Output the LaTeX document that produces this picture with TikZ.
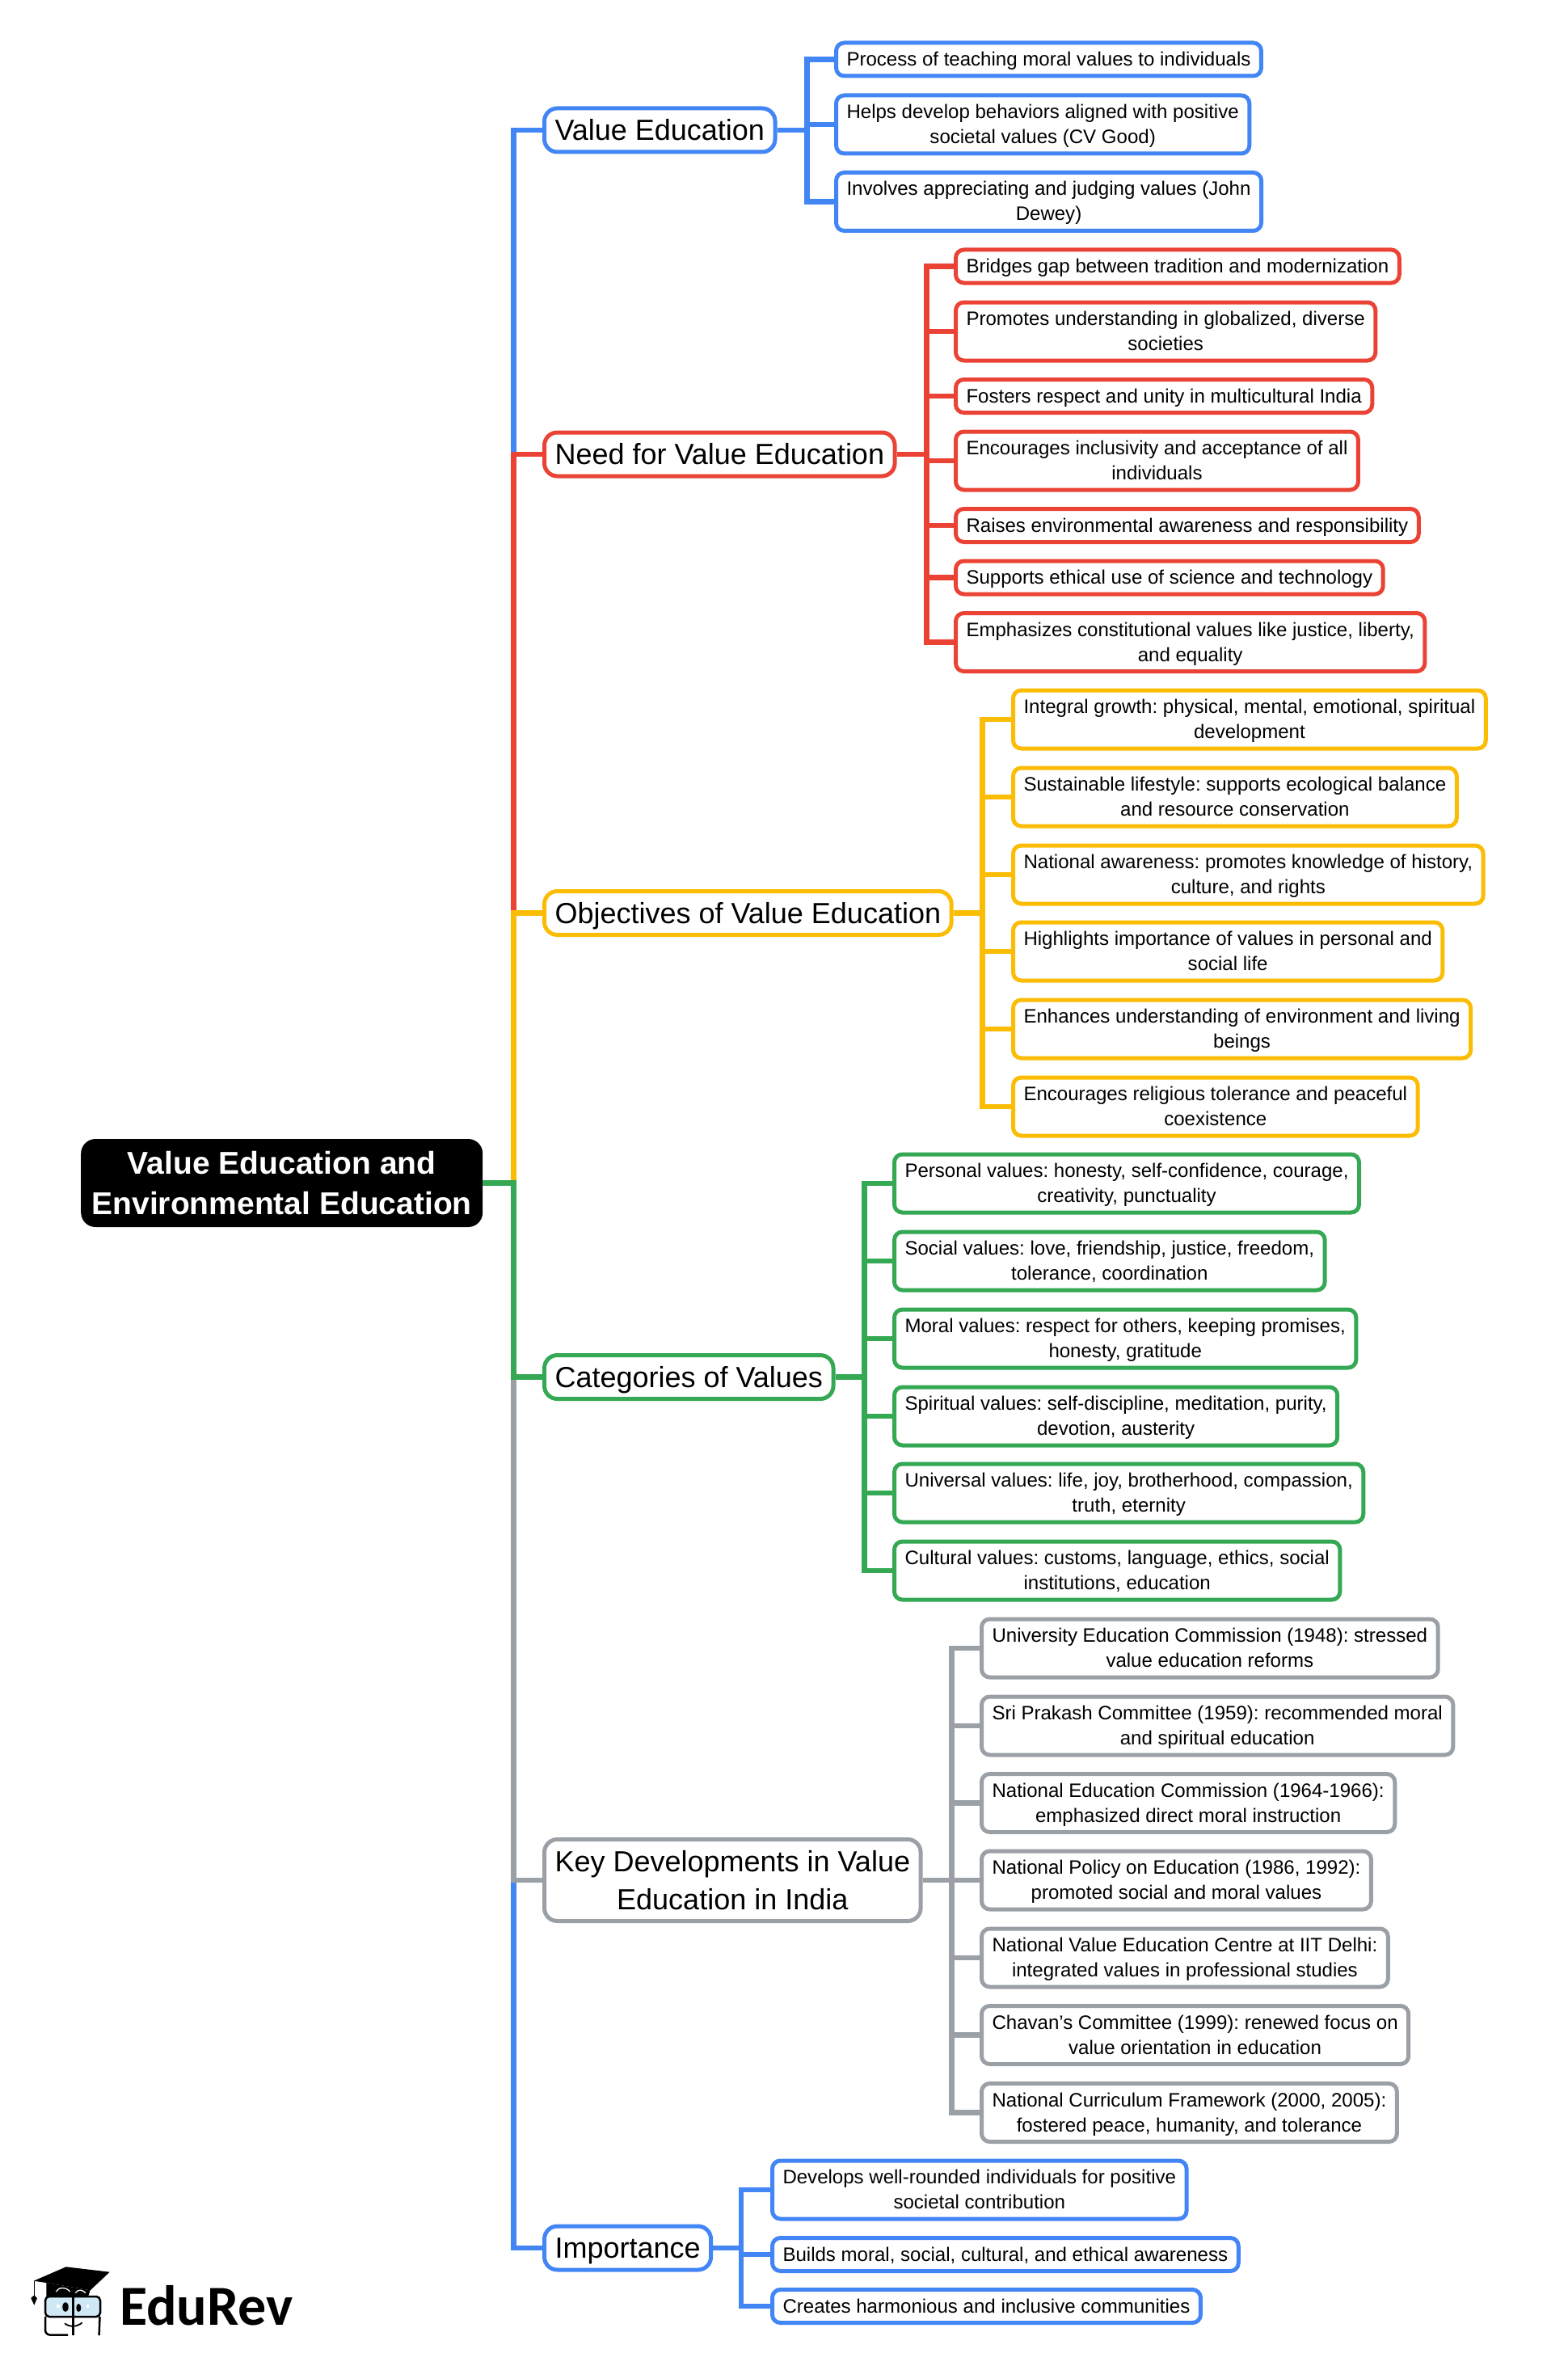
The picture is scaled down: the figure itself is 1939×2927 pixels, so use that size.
\documentclass[tikz,border=0pt]{standalone}
\usepackage{fontspec}
\setmainfont{Liberation Sans}
\newfontfamily\brandfont{Carlito}
\usetikzlibrary{positioning}
\definecolor{MyBlue}{HTML}{4285F4}
\definecolor{MyRed}{HTML}{EA4335}
\definecolor{MyYellow}{HTML}{FBBC04}
\definecolor{MyGreen}{HTML}{34A853}
\definecolor{MyGray}{HTML}{9AA0A6}
\definecolor{MyGlass}{HTML}{CFE8F6}
\tikzset{
    leaf/.style={draw=#1, fill=white, line width=5pt, rounded corners=10pt, anchor=west, align=center,
        inner xsep=13pt, inner ysep=0pt, minimum height=41pt, text height=19pt, text depth=3pt,
        font=\frenchspacing\fontsize{24.05}{31}\selectfont},
    tall/.style={minimum height=72pt, text height=50pt},
    topic/.style={draw=#1, fill=white, line width=5pt, rounded corners=16pt, anchor=west, align=center,
        inner xsep=13pt, inner ysep=0pt, minimum height=54pt, text height=27pt, text depth=1.6pt,
        font=\frenchspacing\fontsize{36}{47}\selectfont},
    link/.style={draw=#1, line width=6.5pt},
}
\begin{document}
\begin{tikzpicture}[x=1pt,y=-1pt]
    \useasboundingbox (0,0) rectangle (1939,2927);

%   root
    \node[fill=black, text=white, rounded corners=18pt, align=center, anchor=west, inner sep=0pt,
        minimum width=497pt, minimum height=109pt, font=\fontsize{39}{50.5}\selectfont\bfseries]
        (root) at (100,1463.5) {Value Education and\\Environmental Education};

%   topics
    \node[topic=MyBlue] (val) at (671,161) {Value Education};
    \node[topic=MyRed] (need) at (671,562) {Need for Value Education};
    \node[topic=MyYellow] (obj) at (671,1129.5) {Objectives of Value Education};
    \node[topic=MyGreen] (cat) at (671,1703.5) {Categories of Values};
    \node[topic=MyGray, minimum height=101pt, text height=74pt, text depth=1pt] (key) at (671,2326) {Key Developments in Value\\Education in India};
    \node[topic=MyBlue] (imp) at (671,2781) {Importance};

%   value education
    \node[leaf=MyBlue] (v1) at (1032,73.5) {Process of teaching moral values to individuals};
    \node[leaf=MyBlue, tall] (v2) at (1032,154) {Helps develop behaviors aligned with positive\\societal values (CV Good)};
    \node[leaf=MyBlue, tall] (v3) at (1032,249.5) {Involves appreciating and judging values (John\\Dewey)};

%   need
    \node[leaf=MyRed] (n1) at (1180,329.5) {Bridges gap between tradition and modernization};
    \node[leaf=MyRed, tall] (n2) at (1180,410) {Promotes understanding in globalized, diverse\\societies};
    \node[leaf=MyRed] (n3) at (1180,490) {Fosters respect and unity in multicultural India};
    \node[leaf=MyRed, tall] (n4) at (1180,570) {Encourages inclusivity and acceptance of all\\individuals};
    \node[leaf=MyRed] (n5) at (1180,650) {Raises environmental awareness and responsibility};
    \node[leaf=MyRed] (n6) at (1180,714.5) {Supports ethical use of science and technology};
    \node[leaf=MyRed, tall] (n7) at (1180,794.5) {Emphasizes constitutional values like justice, liberty,\\and equality};

%   objectives
    \node[leaf=MyYellow, tall] (o1) at (1251,890) {Integral growth: physical, mental, emotional, spiritual\\development};
    \node[leaf=MyYellow, tall] (o2) at (1251,986) {Sustainable lifestyle: supports ecological balance\\and resource conservation};
    \node[leaf=MyYellow, tall] (o3) at (1251,1082) {National awareness: promotes knowledge of history,\\culture, and rights};
    \node[leaf=MyYellow, tall] (o4) at (1251,1177) {Highlights importance of values in personal and\\social life};
    \node[leaf=MyYellow, tall] (o5) at (1251,1273) {Enhances understanding of environment and living\\beings};
    \node[leaf=MyYellow, tall] (o6) at (1251,1369) {Encourages religious tolerance and peaceful\\coexistence};

%   categories
    \node[leaf=MyGreen, tall] (c1) at (1104,1464) {Personal values: honesty, self-confidence, courage,\\creativity, punctuality};
    \node[leaf=MyGreen, tall] (c2) at (1104,1560) {Social values: love, friendship, justice, freedom,\\tolerance, coordination};
    \node[leaf=MyGreen, tall] (c3) at (1104,1656) {Moral values: respect for others, keeping promises,\\honesty, gratitude};
    \node[leaf=MyGreen, tall] (c4) at (1104,1752) {Spiritual values: self-discipline, meditation, purity,\\devotion, austerity};
    \node[leaf=MyGreen, tall] (c5) at (1104,1847) {Universal values: life, joy, brotherhood, compassion,\\truth, eternity};
    \node[leaf=MyGreen, tall] (c6) at (1104,1943) {Cultural values: customs, language, ethics, social\\institutions, education};

%   key developments
    \node[leaf=MyGray, tall] (k1) at (1212,2039) {University Education Commission (1948): stressed\\value education reforms};
    \node[leaf=MyGray, tall] (k2) at (1212,2135) {Sri Prakash Committee (1959): recommended moral\\and spiritual education};
    \node[leaf=MyGray, tall] (k3) at (1212,2230.5) {National Education Commission (1964-1966):\\emphasized direct moral instruction};
    \node[leaf=MyGray, tall] (k4) at (1212,2326) {National Policy on Education (1986, 1992):\\promoted social and moral values};
    \node[leaf=MyGray, tall] (k5) at (1212,2422) {National Value Education Centre at IIT Delhi:\\integrated values in professional studies};
    \node[leaf=MyGray, tall] (k6) at (1212,2517.5) {Chavan's Committee (1999): renewed focus on\\value orientation in education};
    \node[leaf=MyGray, tall] (k7) at (1212,2613.5) {National Curriculum Framework (2000, 2005):\\fostered peace, humanity, and tolerance};

%   importance
    \node[leaf=MyBlue, tall] (i1) at (953,2709) {Develops well-rounded individuals for positive\\societal contribution};
    \node[leaf=MyBlue] (i2) at (953,2789) {Builds moral, social, cultural, and ethical awareness};
    \node[leaf=MyBlue] (i3) at (953,2853) {Creates harmonious and inclusive communities};

%   links from the root, the last one stays on top
    \draw[link=MyBlue] (root.east) -- ++(38,0) |- (val.west);
    \draw[link=MyBlue] (root.east) -- ++(38,0) |- (imp.west);
    \draw[link=MyGray] (root.east) -- ++(38,0) |- (key.west);
    \draw[link=MyRed] (root.east) -- ++(38,0) |- (need.west);
    \draw[link=MyYellow] (root.east) -- ++(38,0) |- (obj.west);
    \draw[link=MyGreen] (root.east) -- ++(38,0) |- (cat.west);

    \foreach \n in {v1,v2,v3} {
        \draw[link=MyBlue] (val.east) -- ++(37,0) |- (\n.west);
    }
    \foreach \n in {n1,n2,n3,n4,n5,n6,n7} {
        \draw[link=MyRed] (need.east) -- ++(37,0) |- (\n.west);
    }
    \foreach \n in {o1,o2,o3,o4,o5,o6} {
        \draw[link=MyYellow] (obj.east) -- ++(36,0) |- (\n.west);
    }
    \foreach \n in {c1,c2,c3,c4,c5,c6} {
        \draw[link=MyGreen] (cat.east) -- ++(36,0) |- (\n.west);
    }
    \foreach \n in {k1,k2,k3,k4,k5,k6,k7} {
        \draw[link=MyGray] (key.east) -- ++(36,0) |- (\n.west);
    }
    \foreach \n in {i1,i2,i3} {
        \draw[link=MyBlue] (imp.east) -- ++(35,0) |- (\n.west);
    }

%   logo
    \fill (41.7,2821.7) -- (81.7,2804.3) -- (135.7,2810.7) -- (111.7,2833.3) -- (57.3,2824) -- cycle;
    \fill (57.3,2824) -- (111.7,2833.3) -- (109,2841) -- (57.3,2841) -- cycle;
    \draw[white, line width=1.3pt] (69.3,2835) .. controls (72,2829) and (82,2829) .. (86.7,2835);
    \draw[white, line width=1.3pt] (93.3,2836.7) .. controls (96,2832) and (102,2832) .. (106,2836.7);
    \draw[line width=1.5pt] (42.3,2821.7) -- (42.3,2840);
    \fill (38.3,2843) -- (42.3,2839.3) -- (46,2843) -- (42.3,2851.7) -- cycle;
    \draw[line width=2.5pt, fill=MyGlass, rounded corners=5pt] (56,2841) rectangle (124,2866);
    \fill[white] (70,2851) rectangle (73.5,2854.5);
    \fill[white] (106.5,2851) rectangle (110,2854.5);
    \draw[line width=2.5pt, rounded corners=6pt] (56,2866) -- (56,2888.5) -- (84,2888.5);
    \draw[line width=2.5pt] (123.5,2866) -- (122.6,2889);
    \draw[line width=2.7pt] (90.7,2837) -- (90.7,2889.3);
    \fill (81,2854) ellipse (3.7 and 6);
    \fill (97.3,2855) ellipse (3 and 5);
    \draw[line width=1.8pt] (80,2874.3) .. controls (86,2879) and (95,2879) .. (101.7,2873.3);
    \node[anchor=base west, inner sep=0pt, font=\fontsize{70}{70}\selectfont\brandfont\bfseries] (brand) at (148,2876.7) {EduRev};
\end{tikzpicture}
\end{document}
